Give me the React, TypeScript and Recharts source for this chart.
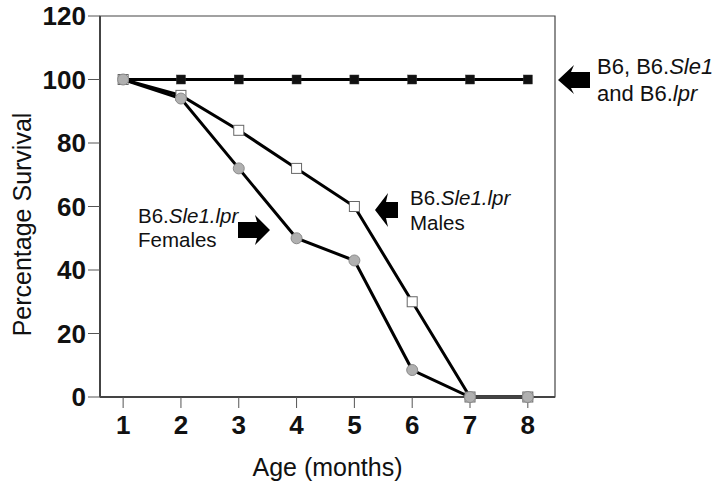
import React from 'react';
import { LineChart, Line, XAxis, YAxis, ReferenceArea } from 'recharts';

const ages = [1, 2, 3, 4, 5, 6, 7, 8];
const controlSurvival = [100, 100, 100, 100, 100, 100, 100, 100];
const maleSurvival = [100, 95, 84, 72, 60, 30, 0, 0];
const femaleSurvival = [100, 94, 72, 50, 43, 8.5, 0, 0];
const yTicks = [0, 20, 40, 60, 80, 100, 120];

const data = ages.map((age, i) => ({
  age,
  control: controlSurvival[i],
  males: maleSurvival[i],
  females: femaleSurvival[i],
}));

const FONT = '"Liberation Sans", Arial, sans-serif';

function SquareDot(props: any) {
  const { cx, cy } = props;
  if (cx == null || cy == null) return null;
  return <rect x={cx - 4.5} y={cy - 4.5} width={9} height={9} fill="#111" stroke="#333" strokeWidth={0.5} />;
}

function OpenSquareDot(props: any) {
  const { cx, cy } = props;
  if (cx == null || cy == null) return null;
  return <rect x={cx - 5} y={cy - 5} width={10} height={10} fill="#fff" stroke="#666" strokeWidth={1} />;
}

function CircleDot(props: any) {
  const { cx, cy } = props;
  if (cx == null || cy == null) return null;
  return <circle cx={cx} cy={cy} r={5.5} fill="#b0b0b0" stroke="#8a8a8a" strokeWidth={1} />;
}

// rotated y title, sitting a bit below the plot centre like the original
function YTitle(props: any) {
  const { viewBox } = props;
  const x = 22;
  const y = viewBox.y + viewBox.height / 2 + 18;
  return (
    <text x={x} y={y} transform={`rotate(-90, ${x}, ${y})`} textAnchor="middle" dominantBaseline="central"
      fontFamily={FONT} fontSize={25} fill="#111">
      Percentage Survival
    </text>
  );
}

export default function App() {
  return (
    <div style={{ position: 'absolute', left: 0, top: 0, width: 720, height: 484, background: '#fff' }}>
      <LineChart width={720} height={484} data={data} margin={{ top: 16, right: 165, bottom: 0, left: 0 }}>
        <ReferenceArea x1={0.6} x2={8.47} y1={0} y2={120} fill="none" stroke="#444" strokeWidth={1.2} ifOverflow="visible" />
        <XAxis
          dataKey="age"
          type="number"
          domain={[0.6, 8.47]}
          ticks={ages}
          allowDataOverflow
          height={87}
          tickSize={11}
          tickLine={{ stroke: '#555' }}
          axisLine={{ stroke: '#444', strokeWidth: 2 }}
          tick={{ fontFamily: FONT, fontSize: 26, fontWeight: 'bold', fill: '#111', dy: 6 }}
          label={{ value: 'Age (months)', position: 'insideBottom', offset: 8, fontFamily: FONT, fontSize: 25, fill: '#111' }}
        />
        <YAxis
          type="number"
          domain={[0, 120]}
          ticks={yTicks}
          width={100}
          tickSize={12}
          tickLine={{ stroke: '#555' }}
          axisLine={{ stroke: '#444', strokeWidth: 2 }}
          tick={{ fontFamily: FONT, fontSize: 26, fontWeight: 'bold', fill: '#111' }}
          label={<YTitle />}
        />
        <Line dataKey="control" stroke="#000" strokeWidth={3} dot={<SquareDot />} isAnimationActive={false} />
        <Line dataKey="males" stroke="#000" strokeWidth={3} dot={<OpenSquareDot />} isAnimationActive={false} />
        <Line dataKey="females" stroke="#000" strokeWidth={3} dot={<CircleDot />} isAnimationActive={false} />
      </LineChart>
      <svg width={720} height={484} style={{ position: 'absolute', left: 0, top: 0, pointerEvents: 'none' }}>
        <g fontFamily={FONT} fill="#111">
          <text x={597} y={74} fontSize={22}>B6, B6.<tspan fontStyle="italic">Sle1</tspan></text>
          <text x={597} y={101} fontSize={22}>and B6.<tspan fontStyle="italic">lpr</tspan></text>
          <text x={138} y={223} fontSize={20.5}>B6.<tspan fontStyle="italic">Sle1.lpr</tspan></text>
          <text x={138} y={247} fontSize={20.5}>Females</text>
          <text x={410} y={205} fontSize={20.5}>B6.<tspan fontStyle="italic">Sle1.lpr</tspan></text>
          <text x={410} y={230} fontSize={20.5}>Males</text>
        </g>
        <polygon points="558,80 574,65 571,72 590,72 590,88 571,88 574,94" fill="#000" />
        <polygon points="375,210 388,193 386,202 398,202 398,218 386,218 388,227" fill="#000" />
        <polygon points="270,230 255,215 257,222 238,222 238,238 257,238 255,245" fill="#000" />
      </svg>
    </div>
  );
}
